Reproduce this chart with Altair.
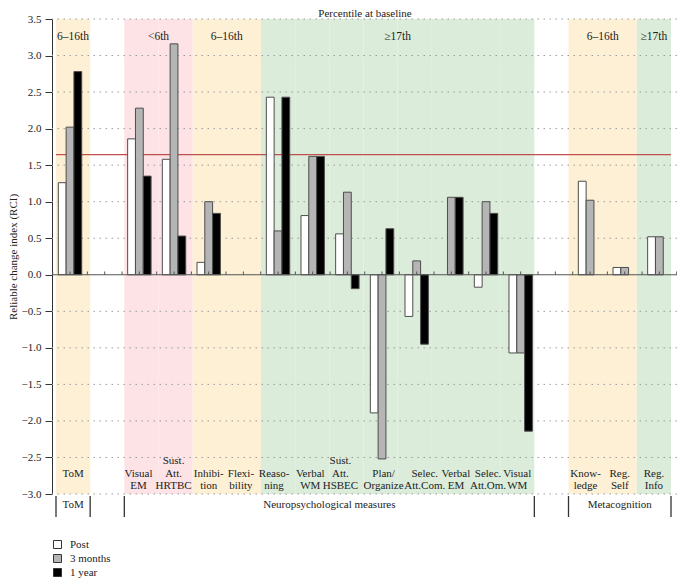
import altair as alt
import pandas as pd

# ---------------- data ----------------
categories = ["ToM", "gap1", "Visual EM", "Sust. Att. HRTBC", "Inhibition", "Flexibility",
              "Reasoning", "Verbal WM", "Sust. Att. HSBEC", "Plan/Organize", "Selec. Att.Com.",
              "Verbal EM", "Selec. Att.Om.", "Visual WM", "gap2", "Knowledge", "Reg. Self", "Reg. Info"]
cat_labels = ["ToM", "", "Visual\nEM", "Sust.\nAtt.\nHRTBC", "Inhibi-\ntion", "Flexi-\nbility",
              "Reaso-\nning", "Verbal\nWM", "Sust.\nAtt.\nHSBEC", "Plan/\nOrganize", "Selec.\nAtt.Com.",
              "Verbal\nEM", "Selec.\nAtt.Om.", "Visual\nWM", "", "Know-\nledge", "Reg.\nSelf", "Reg.\nInfo"]
# small horizontal nudges (px) of the category labels, as in the reference layout
label_nudge = [0, 0, -3, -2, -1, -3, -4, -2, -6, 3, 10, 7, 5, 0, 0, 0, 0, 0]
series = ["Post", "3 months", "1 year"]
post =    [1.26, None, 1.86, 1.58, 0.17, None, 2.43, 0.81, 0.56, -1.89, -0.57, None, -0.17, -1.07, None, 1.28, 0.10, 0.52]
months3 = [2.02, None, 2.28, 3.16, 1.00, None, 0.60, 1.62, 1.13, -2.52, 0.19, 1.06, 1.00, -1.07, None, 1.02, 0.10, 0.52]
year1 =   [2.78, None, 1.35, 0.53, 0.84, None, 2.43, 1.62, -0.19, 0.63, -0.95, 1.06, 0.84, -2.14, None, None, None, None]
percentile = ["6–16th", None, "<6th", "<6th", "6–16th", "6–16th",
              "≥17th", "≥17th", "≥17th", "≥17th", "≥17th", "≥17th", "≥17th", "≥17th",
              None, "6–16th", "6–16th", "≥17th"]
pct_colors = {"<6th": "#fde3e5", "6–16th": "#fdf0d5", "≥17th": "#dcecda"}
header_edge = [("<6th", "Sust. Att. HRTBC"), ("6–16th", "Flexibility"),
               ("≥17th", "Selec. Att.Com."), ("6–16th", "Reg. Self")]
header_mid = [("6–16th", "ToM"), ("≥17th", "Reg. Info")]
group_edges = ["ToM", "gap1", "Visual EM", "gap2", "Knowledge"]
group_end = ["Reg. Info"]
group_labels_edge = [("Neuropsychological measures", "Sust. Att. HSBEC")]
group_labels_mid = [("ToM", "ToM"), ("Metacognition", "Reg. Self")]
threshold = 1.645
grid_vals = [v / 2 for v in range(-6, 8) if v != 0]

FONT = "Liberation Serif"
YT = "Reliable change index (RCI)"
W, H = 625, 475
PO_S, AL_S = 0.1463, 0.4     # shading / label scale padding
PO_B, AL_B = 0.0144, 0.7     # bar scale padding
half_band_s = W / (len(categories) + 2 * PO_S) / 2

# ---------------- tables ----------------
rows = []
for s, vals in zip(series, [post, months3, year1]):
    for c, v in zip(categories, vals):
        if v is not None:
            rows.append({"cat": c, "series": s, "val": v})
bars_df = pd.DataFrame(rows)
shade_df = pd.DataFrame([{"cat": c, "col": pct_colors[p]} for c, p in zip(categories, percentile) if p])
padded = ["\n" * (2 - lab.count("\n")) + lab for lab in cat_labels]
labels_df = pd.DataFrame({"cat": categories, "lab": padded,
                          "nudge": [n + half_band_s for n in label_nudge]})
grid_df = pd.DataFrame({"g": grid_vals})

# ---------------- scales ----------------
yscale = alt.Scale(domain=[-3.0, 3.5], nice=False, zero=False)
yax = alt.Axis(values=[v / 2 for v in range(-6, 8)], format=".1f", grid=False, tickSize=7,
               labelPadding=4, domainColor="#333", tickColor="#333", labelColor="#222",
               labelFont=FONT, labelFontSize=11, titleFont=FONT, titleFontSize=11,
               titleFontWeight="normal", titleColor="#222", titlePadding=3)
xs = alt.Scale(domain=categories, paddingInner=0, paddingOuter=PO_S, align=AL_S)
xb = alt.Scale(domain=categories, paddingInner=0, paddingOuter=PO_B, align=AL_B)


def ydatum(v):
    return alt.YDatum(v, type="quantitative", scale=yscale, axis=yax, title=YT)


def yfield(f):
    return alt.Y(f, type="quantitative", scale=yscale, axis=yax, title=YT)


# ---------------- shading-scale group ----------------
shading = alt.Chart(shade_df).mark_rect().encode(
    x=alt.X("cat:N", scale=xs, axis=None),
    y=ydatum(3.5), y2=alt.Y2Datum(-3.0),
    color=alt.Color("col:N", scale=None),
)
grid = alt.Chart(grid_df).mark_rule(color="#9a9a9a", strokeWidth=1, strokeDash=[1.5, 4.5]).encode(
    y=yfield("g"))
red = alt.Chart(pd.DataFrame([{"a": categories[0], "b": categories[-1], "t": threshold}])).mark_rule(
    color="#c0504d", strokeWidth=1.2).encode(
    x=alt.X("a:N", scale=xs, axis=None, bandPosition=0),
    x2=alt.X2("b", bandPosition=1),
    y=yfield("t"))
cat_text = alt.Chart(labels_df).mark_text(font=FONT, fontSize=11, lineBreak="\n", baseline="alphabetic",
                                          align="center", lineHeight=12.5, color="#222").encode(
    x=alt.X("cat:N", scale=xs, axis=None),
    xOffset=alt.XOffset("nudge:Q", scale=None),
    y=alt.value(445), text="lab:N")
hdr1 = alt.Chart(pd.DataFrame(header_edge, columns=["t", "cat"])).mark_text(
    font=FONT, fontSize=11.5, color="#222").encode(
    x=alt.X("cat:N", scale=xs, axis=None, bandPosition=0), y=alt.value(18), text="t:N")
hdr2 = alt.Chart(pd.DataFrame(header_mid, columns=["t", "cat"])).mark_text(
    font=FONT, fontSize=11.5, color="#222").encode(
    x=alt.X("cat:N", scale=xs, axis=None, bandPosition=0.5), y=alt.value(18), text="t:N")
title = alt.Chart(pd.DataFrame({"t": ["Percentile at baseline"]})).mark_text(
    font=FONT, fontSize=11, color="#222", baseline="alphabetic").encode(
    x=alt.value(313), y=alt.value(-2), text="t:N")
br1 = alt.Chart(pd.DataFrame({"cat": group_edges})).mark_rule(color="#333", strokeWidth=1.3).encode(
    x=alt.X("cat:N", scale=xs, axis=None, bandPosition=0), y=alt.value(477), y2=alt.value(498))
br2 = alt.Chart(pd.DataFrame({"cat": group_end})).mark_rule(color="#333", strokeWidth=1.3).encode(
    x=alt.X("cat:N", scale=xs, axis=None, bandPosition=1), y=alt.value(477), y2=alt.value(498))
gl1 = alt.Chart(pd.DataFrame(group_labels_edge, columns=["t", "cat"])).mark_text(
    font=FONT, fontSize=11, color="#222", baseline="alphabetic").encode(
    x=alt.X("cat:N", scale=xs, axis=None, bandPosition=0), y=alt.value(489), text="t:N")
gl2 = alt.Chart(pd.DataFrame(group_labels_mid, columns=["t", "cat"])).mark_text(
    font=FONT, fontSize=11, color="#222", baseline="alphabetic").encode(
    x=alt.X("cat:N", scale=xs, axis=None, bandPosition=0.5), y=alt.value(489), text="t:N")

shade_group = alt.layer(shading, grid, red, cat_text, hdr1, hdr2, title, br1, br2, gl1, gl2)

# ---------------- bar-scale group ----------------
bars = alt.Chart(bars_df).mark_bar(stroke="#4d4d4d", strokeWidth=1).encode(
    x=alt.X("cat:N", scale=xb, axis=None),
    xOffset=alt.XOffset("series:N", scale=alt.Scale(domain=series, paddingInner=0, paddingOuter=0.72)),
    y=yfield("val"), y2=alt.Y2Datum(0),
    fill=alt.Fill("series:N", scale=alt.Scale(domain=series, range=["#ffffff", "#b5b5b5", "#000000"]),
                  legend=alt.Legend(orient="none", legendX=0, legendY=520, title=None,
                                    symbolType="square", symbolSize=64, symbolStrokeColor="#333",
                                    symbolStrokeWidth=1, labelFont=FONT, labelFontSize=11,
                                    labelColor="#222", labelOffset=7, rowPadding=1, padding=0)),
)
zero = alt.Chart(pd.DataFrame({"z": [0.0]})).mark_rule(color="#555", strokeWidth=1.1).encode(y=yfield("z"))
tick_df = pd.DataFrame({"cat": categories, "lo": 0.0, "hi": 0.045})
ticks0 = alt.Chart(tick_df).mark_rule(color="#555", strokeWidth=1).encode(
    x=alt.X("cat:N", scale=xb, axis=None, bandPosition=0), y=yfield("lo"), y2="hi")
ticks5 = alt.Chart(tick_df).mark_rule(color="#555", strokeWidth=1).encode(
    x=alt.X("cat:N", scale=xb, axis=None, bandPosition=0.5), y=yfield("lo"), y2="hi")
ticksE = alt.Chart(tick_df.tail(1)).mark_rule(color="#555", strokeWidth=1).encode(
    x=alt.X("cat:N", scale=xb, axis=None, bandPosition=1), y=yfield("lo"), y2="hi")

bar_group = alt.layer(bars, zero, ticks0, ticks5, ticksE)

chart = alt.layer(shade_group, bar_group).resolve_scale(x="independent").properties(
    width=W, height=H,
    autosize=alt.AutoSizeParams(type="none"),
    padding={"left": 44, "top": 11, "right": 0, "bottom": 85},
    background="white",
).configure_view(stroke=None)

chart.save("out.html", embed_options={"renderer": "svg", "actions": False})
